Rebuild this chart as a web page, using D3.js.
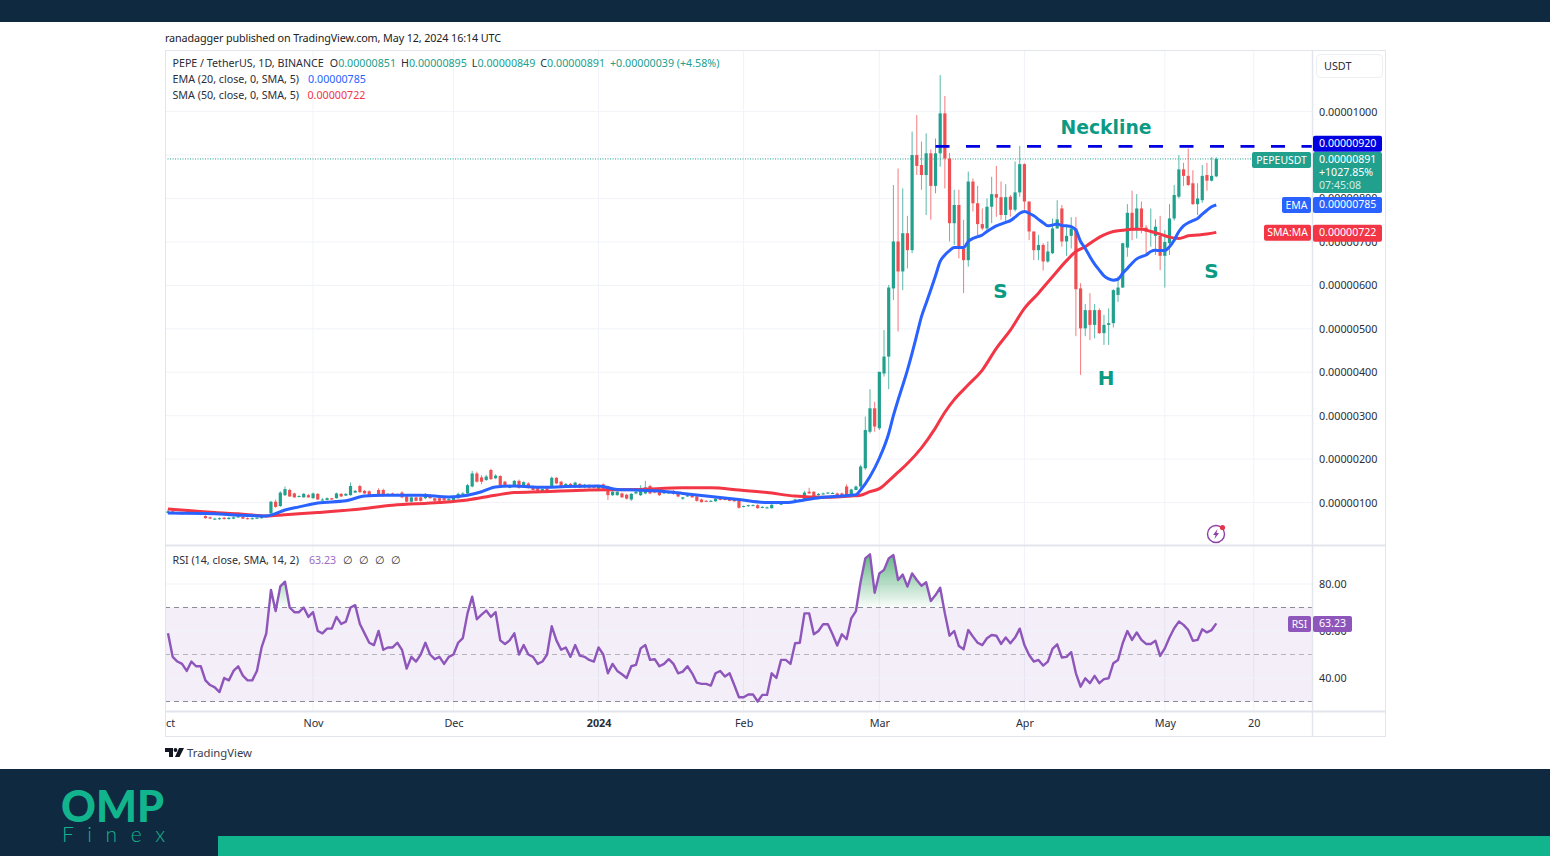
<!DOCTYPE html>
<html>
<head>
<meta charset="utf-8">
<script src="https://cdn.jsdelivr.net/npm/d3@7"></script>
<style>
  body { margin: 0; background: #fff; }
  text { font-family: "Noto Sans", sans-serif; }
</style>
</head>
<body>
<div id="chart"></div>
<script>
// prices are in units of 0.00000001 USDT, one row per ten days from 1 Oct 2023
const opens = [
  76,80,76,75,74,74,76,74,69,66, 61,62,65,62,63,66,67,64,62,63,
  64,70,75,102,92,117,129,121,113,112, 117,110,120,106,106,110,110,120,116,117,
  123,138,127,126,115,129,129,116,121,117, 123,114,102,112,112,110,117,110,110,110,
  105,106,110,118,121,137,167,158,152,175, 156,161,148,134,137,150,136,144,137,133,
  124,133,137,157,148,138,143,135,143,135, 140,138,132,142,137,117,117,121,118,107,
  121,117,121,138,130,127,121,121,127,123, 109,114,117,114,107,104,103,103,109,109,
  109,109,104,90,92,93,94,88,87,87, 100,95,98,100,101,103,106,125,125,117,
  119,121,121,121,121,137,117,129,137,179, 263,317,271,397,436,593,701,632,720,681,
  900,877,854,904,829,904,996,892,743,785, 685,658,839,789,741,731,781,810,803,762,
  804,774,814,879,793,724,681,693,655,674, 731,777,701,714,731,593,501,543,509,543,
  490,509,513,578,595,687,767,727,777,733, 724,714,714,668,697,754,804,867,852,835,
  787,796,854,841,851];
const closes = [
  80,76,75,74,76,76,74,72,64,63, 63,64,62,65,66,68,63,62,64,65,
  68,67,102,90,123,131,114,112,115,120, 112,121,107,107,110,107,121,114,120,138,
  127,124,121,117,119,117,115,120,117,119, 112,102,112,104,104,120,110,104,104,105,
  108,112,120,121,140,167,148,148,160,154, 162,140,137,140,150,134,147,134,129,127,
  131,125,157,144,137,143,137,146,134,141, 134,134,138,132,117,125,125,112,109,120,
  125,133,135,121,123,117,125,125,120,114, 112,117,112,104,101,103,104,109,106,106,
  104,103,88,92,94,94,87,90,89,95, 97,98,100,103,107,107,123,121,114,120,
  121,123,122,116,115,115,130,137,183,267, 317,275,401,436,595,701,632,720,681,900,
  875,854,904,829,904,996,892,743,785,685, 658,839,789,741,731,781,810,802,762,803,
  774,814,879,793,724,681,693,655,678,731, 752,701,714,731,591,501,543,509,543,490,
  509,513,589,595,697,767,727,777,733,724, 727,735,668,700,754,808,867,852,831,787,
  800,852,841,852,891];
const highs = [
  85,82,78,77,78,77,78,75,71,68, 65,66,67,67,68,70,69,66,66,67,
  70,73,104,107,126,137,132,123,117,122, 120,123,122,110,112,111,123,122,122,146,
  129,141,129,128,120,133,132,122,123,121, 126,115,114,113,114,122,119,111,112,111,
  110,113,123,124,143,173,171,163,164,178, 165,163,150,142,152,153,149,147,139,135,
  133,135,160,159,150,145,145,148,145,143, 142,140,140,144,139,127,127,123,120,122,
  128,140,150,141,132,129,127,127,129,125, 113,118,119,116,109,106,106,110,110,111,
  110,111,105,93,95,96,96,92,91,96, 102,100,102,104,109,108,127,134,126,122,
  123,124,124,123,123,142,132,139,187,298, 361,332,401,497,601,831,869,823,760,954,
  992,931,950,913,938,1084,1036,905,820,820, 751,862,846,829,777,800,850,875,839,833,
  808,885,921,881,793,724,716,697,701,754, 796,785,735,757,757,605,557,582,557,547,
  532,547,591,621,698,787,818,810,793,739, 777,752,760,727,787,831,900,882,915,865,
  835,877,882,895,895];
const lows = [
  73,74,73,73,73,73,72,71,63,62, 60,60,61,61,62,65,62,61,61,62,
  63,66,73,88,90,115,113,111,112,111, 111,109,106,104,105,106,109,113,115,116,
  122,122,120,116,114,116,113,115,116,116, 110,100,100,103,102,108,109,102,103,104,
  104,105,109,117,120,135,146,142,150,152, 154,138,135,133,136,132,134,132,128,125,
  123,124,135,142,135,136,135,133,133,133, 132,133,131,130,106,115,116,111,107,104,
  119,115,119,119,121,115,120,120,118,112, 106,113,111,102,100,102,102,102,105,105,
  103,102,86,89,90,92,86,87,86,86, 96,94,97,99,100,102,104,120,113,116,
  118,120,120,115,114,113,115,128,133,175, 259,263,267,390,361,566,494,589,639,674,
  854,820,762,751,812,873,823,701,693,662, 582,643,770,716,727,724,743,758,751,747,
  758,770,804,774,704,658,658,634,652,672, 731,689,668,685,483,394,483,474,478,488,
  463,463,503,562,594,666,704,708,720,672, 689,670,635,595,670,749,800,829,829,785,
  762,790,818,839,849];
const rsiValues = [
  59,49,47,46,43,47,45,45,39,37, 36,34,40,39,43,45,41,39,39,43,
  53,59,77.5,68.5,79,81,70,68,68,70, 66,68,60,59,61,61,66,63,64,70,
  71,63,59,55,54,60,52,53,53,55, 52,44,49,47,50,55,50,48,49,46,
  49,50,55,57,67.5,74.6,65,67,68.7,66, 68,56,54.5,56,59,50,54,50,49,46,
  47,50,62,56,52,53,49,54,49.5,49, 47.7,47,53,50,42,46,43,41.6,40,45,
  45.6,52.6,54,47.7,48,45,46,48,46,42, 42.7,45,42,38,37.5,37.5,36.8,42,43,40.6,
  42,37,31.8,31.8,33,33,30,32.8,32.8,42, 40,47.7,47.7,46,54.8,55,67.5,67.5,58.6,60,
  62.9,62.9,58.6,53.8,58.6,56.5,65.4,68.5,81,90.9, 92.6,76.3,84.5,86,90.9,92.3,81.7,84,78.9,84.5,
  81.7,79.3,80.7,72.8,75.3,78.4,67.5,58,60,53.6, 52.2,60.4,57.6,55,54,56.9,58.3,58,54.5,57.2,
  54.8,57.2,61,54,49.8,47,47.7,45.3,47,52.4, 54.3,48.7,49,51,42,36.3,39.9,37.8,40.9,37.8,
  39.5,39.9,46.3,47.7,54.8,60,56.2,59.4,56.2,54.5, 54.5,55.8,49.4,52.6,57.2,61.2,64,62.6,60.4,55.8,
  56.2,60.7,59.4,60.4,63.23];

// moving averages, by day number since 1 Oct 2023
const emaDays = [0,10,15,21,22,25,28,32,38,42,46,54,60,64,67,70,74,80,85,92,96,100,104,110,116,122,128,132,136,140,144,146,
  147,148,150,152,154,155,156,157,158,159,160,161,162,163,164,165,166,167,168,169,170,171,172,173,174,175,176,177,178,179,180,
  181,182,183,184,185,186,187,188,189,190,191,192,193,194,195,196,197,198,199,200,201,202,203,204,205,206,207,208,209,210,
  211,212,213,214,215,216,217,218,219,220,221,222,223,224];
const emaValues = [76,74,71,69,71,83,90,99,104,115,117,117,113,117,125,136,138,135,137,138,130,129,127,121,114,107,100,100,106,112,115,117,
  118,129,160,202,259,300,336,370,405,444,486,528,559,590,622,655,670,680,687,687,687,701,708,712,716,724,731,737,741,745,749,
  757,766,770,766,760,752,744,737,739,741,738,737,735,727,701,685,666,649,635,622,615,612,614,628,639,651,661,666,670,678,
  681,680,680,689,704,724,737,744,749,754,764,773,781,785];
const smaDays = [0,5,10,15,21,25,32,40,48,58,64,70,74,80,90,100,110,116,122,128,134,140,146,148,150,152,154,156,158,161,164,166,168,
  171,174,177,180,183,186,189,192,194,196,198,200,202,204,206,208,210,212,214,216,218,220,222,224];
const smaValues = [85,81,77,74,69,72,77,84,94,100,106,117,123,125,129,130,134,134,129,123,115,112,115,117,125,132,150,170,190,226,272,308,337,
  371,405,455,497,547,582,620,657,678,689,704,716,724,727,729,729,724,718,711,708,714,716,718,722];

const priceTicks = [100,200,300,400,500,600,700,800,900,1000];
const priceLabels = [100,200,300,400,500,600,700,800,1000];
const rsiTicks = [80,60,40];
const rsiBands = [70,50,30];
const timeTicks = ["2023-10-01","2023-11-01","2023-12-01","2024-01-01","2024-02-01","2024-03-01","2024-04-01","2024-05-01","2024-05-20"];
const timeLabels = ["Oct","Nov","Dec","2024","Feb","Mar","Apr","May","20"];
const necklinePrice = 920, necklineFrom = 164, necklineTo = 245;
const lastPrice = 891, emaLast = 785, smaLast = 722, rsiLast = 63.23;

const GREEN = "#22a08e", RED = "#ef4f53", BLUE = "#2962ff", SMA = "#f23645", PURPLE = "#8e55bb", NAVY = "#0f2a40", TEAL = "#12b48d";
const left = 165, right = 1312, outer = 1386;

const svg = d3.select("#chart").append("svg")
  .attr("width", 1550).attr("height", 856)
  .style("display", "block");

const parseDay = d3.utcParse("%Y-%m-%d");
const dayOne = parseDay("2023-10-01");
const dateOf = i => d3.utcDay.offset(dayOne, i);

const x = d3.scaleUtc()
  .domain([dayOne, dateOf(224)])
  .range([168, 1216.3]);
const y = d3.scaleLinear().domain([0, 1000]).range([546, 111.6]);
const yRsi = d3.scaleLinear().domain([40, 80]).range([678, 584]);

const priceText = d => (d / 1e8).toFixed(8);

// page bands
svg.append("rect").attr("width", 1550).attr("height", 22).attr("fill", NAVY);
svg.append("rect").attr("y", 769).attr("width", 1550).attr("height", 87).attr("fill", NAVY);
svg.append("rect").attr("x", 218).attr("y", 836).attr("width", 1332).attr("height", 20).attr("fill", TEAL);

svg.append("text").text("ranadagger published on TradingView.com, May 12, 2024 16:14 UTC")
  .attr("x", 165).attr("y", 42).attr("font-size", 10.8).attr("fill", "#222")
  .attr("textLength", 336);

const defs = svg.append("defs");
defs.append("clipPath").attr("id", "mainClip").append("rect")
  .attr("x", left).attr("y", 51).attr("width", right - left).attr("height", 494);
defs.append("clipPath").attr("id", "rsiClip").append("rect")
  .attr("x", left).attr("y", 546).attr("width", right - left).attr("height", 165);
defs.append("clipPath").attr("id", "aboveBand").append("rect")
  .attr("x", left).attr("y", 546).attr("width", right - left).attr("height", yRsi(70) - 546);
const grad = defs.append("linearGradient").attr("id", "obFill")
  .attr("gradientUnits", "userSpaceOnUse")
  .attr("x1", 0).attr("x2", 0).attr("y1", yRsi(93)).attr("y2", yRsi(70));
grad.append("stop").attr("offset", 0).attr("stop-color", "#2e9e5b").attr("stop-opacity", 0.75);
grad.append("stop").attr("offset", 1).attr("stop-color", "#2e9e5b").attr("stop-opacity", 0.02);

// grid
const grid = svg.append("g").attr("stroke", "#f1f3f8").attr("stroke-width", 1);
timeTicks.slice(1).forEach(t => {
  grid.append("line").attr("x1", x(parseDay(t))).attr("x2", x(parseDay(t))).attr("y1", 51).attr("y2", 711);
});
priceTicks.forEach(t => {
  grid.append("line").attr("x1", left).attr("x2", right).attr("y1", y(t)).attr("y2", y(t));
});

// RSI band and guides
const rsiPane = svg.append("g").attr("clip-path", "url(#rsiClip)");
rsiPane.append("rect")
  .attr("x", left).attr("width", right - left)
  .attr("y", yRsi(70)).attr("height", yRsi(30) - yRsi(70))
  .attr("fill", PURPLE).attr("fill-opacity", 0.1);
rsiTicks.forEach(t => {
  rsiPane.append("line").attr("x1", left).attr("x2", right).attr("y1", yRsi(t)).attr("y2", yRsi(t))
    .attr("stroke", "#f1f3f8");
});
rsiBands.forEach(t => {
  rsiPane.append("line").attr("x1", left).attr("x2", right).attr("y1", yRsi(t)).attr("y2", yRsi(t))
    .attr("stroke", "#8a8d96").attr("stroke-dasharray", "5 4").attr("stroke-opacity", t === 50 ? 0.6 : 1);
});
const rsiArea = d3.area().x((d, i) => x(dateOf(i))).y0(yRsi(70)).y1(d => yRsi(d));
rsiPane.append("path").datum(rsiValues)
  .attr("clip-path", "url(#aboveBand)")
  .attr("fill", "url(#obFill)").attr("d", rsiArea);
rsiPane.append("path").datum(rsiValues)
  .attr("fill", "none").attr("stroke", PURPLE).attr("stroke-width", 2.4)
  .attr("stroke-linejoin", "round")
  .attr("d", d3.line().x((d, i) => x(dateOf(i))).y(d => yRsi(d)));

// candles
const mainPane = svg.append("g").attr("clip-path", "url(#mainClip)");
mainPane.append("line")
  .attr("x1", left).attr("x2", right).attr("y1", y(lastPrice)).attr("y2", y(lastPrice))
  .attr("stroke", GREEN).attr("stroke-dasharray", "1 1.5");

const candles = mainPane.selectAll("g.candle")
  .data(opens.map((o, i) => ({ i, o, h: highs[i], l: lows[i], c: closes[i] })))
  .join("g").attr("class", "candle");
candles.append("line")
  .attr("x1", d => x(dateOf(d.i))).attr("x2", d => x(dateOf(d.i)))
  .attr("y1", d => y(d.h)).attr("y2", d => y(d.l))
  .attr("stroke", d => d.c >= d.o ? GREEN : RED).attr("stroke-opacity", 0.75);
candles.append("rect")
  .attr("x", d => x(dateOf(d.i)) - 1.6).attr("width", 3.2)
  .attr("y", d => y(Math.max(d.o, d.c)))
  .attr("height", d => Math.max(1, Math.abs(y(d.o) - y(d.c))))
  .attr("fill", d => d.c >= d.o ? GREEN : RED);

// moving averages
const maLine = d3.line().x(d => x(dateOf(d[0]))).y(d => y(d[1])).curve(d3.curveMonotoneX);
mainPane.append("path").datum(smaDays.map((d, i) => [d, smaValues[i]]))
  .attr("fill", "none").attr("stroke", SMA).attr("stroke-width", 3).attr("d", maLine);
mainPane.append("path").datum(emaDays.map((d, i) => [d, emaValues[i]]))
  .attr("fill", "none").attr("stroke", BLUE).attr("stroke-width", 3).attr("d", maLine);

// neckline and pattern labels
mainPane.append("line")
  .attr("x1", x(dateOf(necklineFrom))).attr("x2", x(dateOf(necklineTo)))
  .attr("y1", y(necklinePrice)).attr("y2", y(necklinePrice))
  .attr("stroke", "#0000e0").attr("stroke-width", 2.6).attr("stroke-dasharray", "14 16.5");
[["Neckline", 1106, 134, 18.8], ["S", 1000.5, 298, 20], ["H", 1106, 385, 20], ["S", 1211.5, 278, 20]].forEach(a => {
  svg.append("text").text(a[0])
    .attr("x", a[1]).attr("y", a[2]).attr("text-anchor", "middle")
    .attr("font-size", a[3]).attr("font-weight", 700)
    .style("font-family", '"DejaVu Sans", sans-serif')
    .attr("fill", "#0b9a84");
});

// frame
const frame = svg.append("g").attr("stroke", "#e3e5ec").attr("fill", "none");
frame.append("rect").attr("x", left + 0.5).attr("y", 50.5).attr("width", outer - left - 1).attr("height", 686);
frame.append("line").attr("x1", left).attr("x2", outer).attr("y1", 545.5).attr("y2", 545.5).attr("stroke-width", 2);
frame.append("line").attr("x1", left).attr("x2", outer).attr("y1", 711.5).attr("y2", 711.5).attr("stroke-width", 2);
frame.append("line").attr("x1", right + 0.5).attr("x2", right + 0.5).attr("y1", 50).attr("y2", 737).attr("stroke-width", 1.5);

// axes
const priceAxis = svg.append("g")
  .attr("transform", `translate(${right},0)`)
  .call(d3.axisRight(y).tickValues(priceLabels).tickFormat(priceText).tickSize(0).tickPadding(7));
const rsiAxis = svg.append("g")
  .attr("transform", `translate(${right},0)`)
  .call(d3.axisRight(yRsi).tickValues(rsiTicks).tickFormat(d => d.toFixed(2)).tickSize(0).tickPadding(7));
const timeAxis = svg.append("g")
  .attr("transform", "translate(0,712)")
  .call(d3.axisBottom(x).tickValues(timeTicks.map(parseDay)).tickFormat((d, i) => timeLabels[i]).tickSize(0).tickPadding(7));
[priceAxis, rsiAxis, timeAxis].forEach(a => {
  a.select(".domain").remove();
  a.selectAll("text").attr("font-size", 10.8).attr("fill", "#2a2e39").style("font-family", '"Noto Sans", sans-serif');
});
timeAxis.selectAll("text").filter((d, i) => timeLabels[i] === "2024").attr("font-weight", 700);
// first month label is cut by the pane edge in the picture
timeAxis.selectAll("text").filter((d, i) => timeLabels[i] === "Oct").text("ct").attr("dx", 2);

// USDT button
svg.append("rect").attr("x", 1316.5).attr("y", 54.5).attr("width", 66).attr("height", 23).attr("rx", 4)
  .attr("fill", "#fff").attr("stroke", "#eceef2");
svg.append("text").text("USDT").attr("x", 1324).attr("y", 70).attr("font-size", 10.8).attr("fill", "#2a2e39");

// price tags
function tag(yc, h, fill, lines, name, nameW, wide) {
  const w = wide || 69;
  if (name) {
    svg.append("rect").attr("x", right - nameW - 1).attr("y", yc - 8).attr("width", nameW).attr("height", 16).attr("rx", 2).attr("fill", fill);
    svg.append("text").text(name).attr("x", right - 1 - nameW / 2).attr("y", yc + 3.6).attr("text-anchor", "middle")
      .attr("font-size", 10.4).attr("fill", "#fff");
  }
  svg.append("rect").attr("x", right + 1).attr("y", yc - 8).attr("width", w).attr("height", h).attr("rx", 2).attr("fill", fill);
  lines.forEach((l, i) => {
    svg.append("text").text(l).attr("x", right + 7).attr("y", yc + 3.4 + i * 13)
      .attr("font-size", 10.6).attr("fill", i === 2 ? "#cfeee8" : "#fff");
  });
}
tag(y(necklinePrice) - 2.5, 16, "#0000e0", [priceText(necklinePrice)]);
tag(y(lastPrice) + 1, 41, GREEN, [priceText(lastPrice), "+1027.85%", "07:45:08"], "PEPEUSDT", 59);
tag(y(emaLast), 16, BLUE, [priceText(emaLast)], "EMA", 29);
tag(y(smaLast) + 0.5, 17, SMA, [priceText(smaLast)], "SMA:MA", 47);
tag(yRsi(rsiLast) + 0.5, 16, PURPLE, [rsiLast.toFixed(2)], "RSI", 23, 39);

// legends
function legend(yy, parts) {
  const t = svg.append("text").attr("x", 172.5).attr("y", yy).attr("font-size", 10.7);
  parts.forEach(p => {
    t.append("tspan").text(p[0]).attr("fill", p[1]).attr("dx", p[2] || 0);
  });
}
const INK = "#2a2e39";
legend(67, [["PEPE / TetherUS, 1D, BINANCE", INK], ["O", INK, 6], ["0.00000851", GREEN], ["H", INK, 5], ["0.00000895", GREEN],
  ["L", INK, 5], ["0.00000849", GREEN], ["C", INK, 5], ["0.00000891", GREEN], ["+0.00000039 (+4.58%)", GREEN, 5]]);
legend(83, [["EMA (20, close, 0, SMA, 5)", INK], ["0.00000785", BLUE, 9]]);
legend(99, [["SMA (50, close, 0, SMA, 5)", INK], ["0.00000722", SMA, 8.5]]);
legend(564, [["RSI (14, close, SMA, 14, 2)", INK], ["63.23", "#9a6cc4", 10], ["∅", INK, 7], ["∅", INK, 6], ["∅", INK, 6], ["∅", INK, 6]]);

// snapshot badge
const badge = svg.append("g").attr("transform", "translate(1216,534)");
badge.append("circle").attr("r", 8.5).attr("fill", "none").attr("stroke", "#8e3fa8").attr("stroke-width", 1.4);
badge.append("path").attr("d", "M1.5,-5 L-3,1 L-0.5,1 L-1.5,5 L3,-1 L0.5,-1 Z").attr("fill", "#8e3fa8");
badge.append("circle").attr("cx", 6.5).attr("cy", -6.5).attr("r", 2.6).attr("fill", "#e5344a");

// TradingView mark
const tv = svg.append("g").attr("fill", "#131722");
tv.append("path").attr("d", "M165,748 h8 v9 h-4 v-5 h-4 Z");
tv.append("circle").attr("cx", 175.5).attr("cy", 750).attr("r", 1.9);
tv.append("path").attr("d", "M179,748 h5 l-4.5,9 h-4.5 Z");
svg.append("text").text("TradingView").attr("x", 187).attr("y", 757).attr("font-size", 11.3).attr("fill", "#3a3e49");

// OMP Finex logo
svg.append("text").text("OMP").attr("x", 61).attr("y", 821.5).attr("font-size", 43).attr("font-weight", 900)
  .attr("textLength", 103).attr("lengthAdjust", "spacingAndGlyphs")
  .style("font-family", "Lato, sans-serif").attr("fill", TEAL);
svg.append("text").text("Finex").attr("x", 62).attr("y", 842).attr("font-size", 21).attr("font-weight", 300)
  .attr("textLength", 103)
  .style("font-family", "Lato, sans-serif").attr("fill", TEAL);
</script>
</body>
</html>
